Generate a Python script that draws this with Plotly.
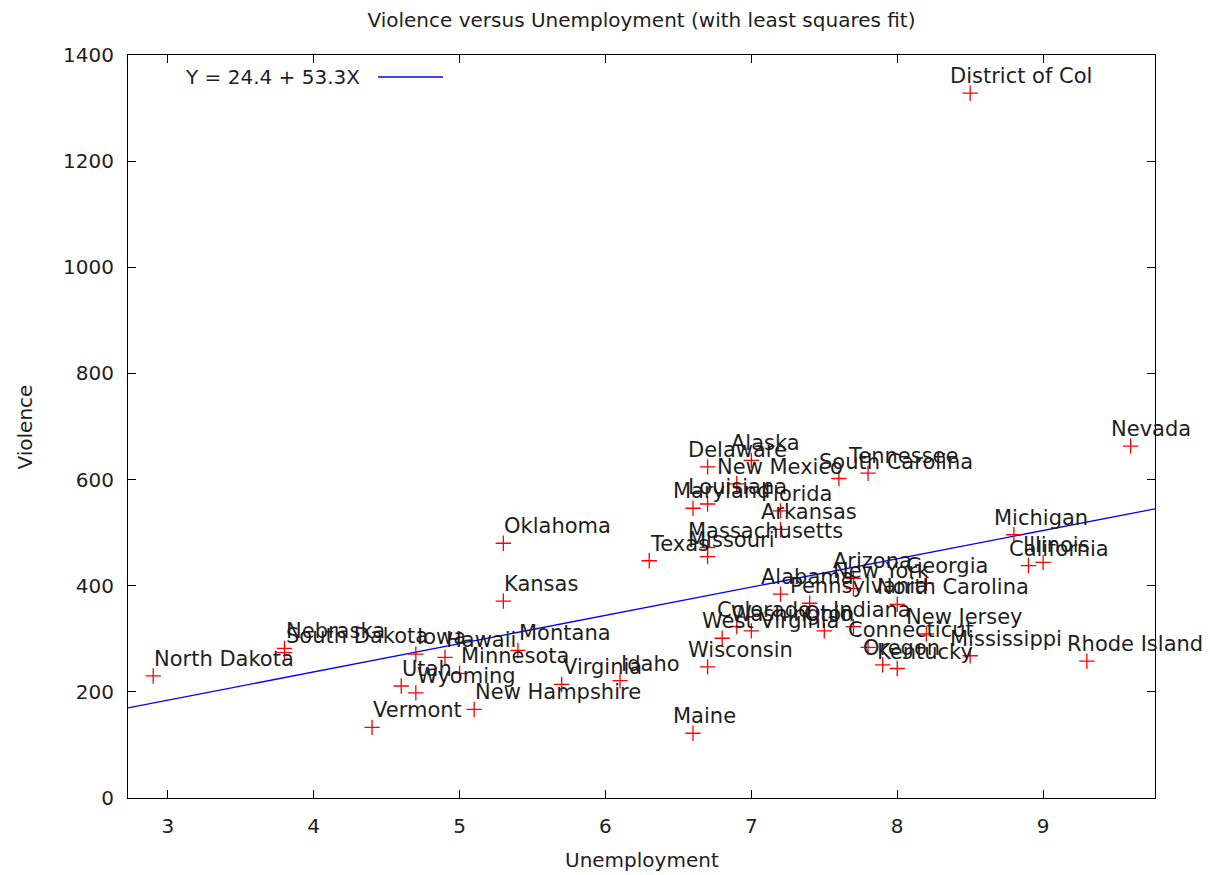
import numpy as np
import plotly.graph_objects as go

# ---------------- data ----------------
states = ["Alabama", "Alaska", "Arizona", "Arkansas", "California", "Colorado",
          "Connecticut", "Delaware", "District of Col", "Florida", "Georgia",
          "Hawaii", "Idaho", "Illinois", "Indiana", "Iowa", "Kansas", "Kentucky",
          "Louisiana", "Maine", "Maryland", "Massachusetts", "Michigan",
          "Minnesota", "Mississippi", "Missouri", "Montana", "Nebraska", "Nevada",
          "New Hampshire", "New Jersey", "New Mexico", "New York",
          "North Carolina", "North Dakota", "Ohio", "Oklahoma", "Oregon",
          "Pennsylvania", "Rhode Island", "South Carolina", "South Dakota",
          "Tennessee", "Texas", "Utah", "Vermont", "Virginia", "Washington",
          "West Virginia", "Wisconsin", "Wyoming"]

unemployment = [7.2, 7.0, 7.7, 7.2, 8.9, 6.9,
                7.8, 6.7, 8.5, 7.2, 8.2,
                4.9, 6.1, 9.0, 7.7, 4.7, 5.3, 8.0,
                6.7, 6.6, 6.6, 6.7, 8.8,
                5.0, 8.5, 6.7, 5.4, 3.8, 9.6,
                5.1, 8.2, 6.9, 7.7,
                8.0, 2.9, 7.5, 5.3, 7.9,
                7.4, 9.3, 7.6, 3.8,
                7.8, 6.3, 4.6, 4.4, 5.7, 7.0,
                6.8, 6.7, 4.7]

violence = [384, 636, 414, 506, 438, 323,
            284, 624, 1328, 541, 405,
            265, 221, 444, 323, 271, 371, 244,
            554, 122, 546, 472, 496,
            235, 268, 455, 278, 282, 663,
            167, 309, 592, 395,
            365, 230, 315, 480, 251,
            367, 258, 602, 274,
            612, 447, 211, 133, 214, 315,
            301, 247, 198]

fit_intercept = 24.4
fit_slope = 53.3

x_ticks = [3, 4, 5, 6, 7, 8, 9]
y_ticks = [0, 200, 400, 600, 800, 1000, 1200, 1400]

# ---------------- figure ----------------
x_range = [2.727, 9.767]
y_range = [0, 1400]

FIG_W, FIG_H = 1210, 875

fig = go.Figure()

# least squares line across the full x range
fx = np.array(x_range)
fy = fit_intercept + fit_slope * fx
fig.add_trace(go.Scatter(x=fx, y=fy, mode="lines",
                         line=dict(color="#0000ff", width=1.3),
                         name="Y = 24.4 + 53.3X", hoverinfo="skip"))

# data points
fig.add_trace(go.Scatter(x=unemployment, y=violence, mode="markers",
                         marker=dict(symbol="cross-thin", size=11,
                                     line=dict(color="#ff0000", width=1.3)),
                         text=states, name="states"))

label_font = dict(family="DejaVu Sans", size=21, color="#1e1e1e")
for name, xv, yv in zip(states, unemployment, violence):
    fig.add_annotation(x=xv, y=yv, xref="x", yref="y", text=name,
                       showarrow=False, xanchor="left", yanchor="middle",
                       xshift=(-1 if xv < 6.5 else -22), yshift=17,
                       font=label_font)

# key (gnuplot style: text then sample line)
fig.add_annotation(x=0.2278, y=0.9704, xref="paper", yref="paper",
                   text="Y = 24.4 + 53.3X", showarrow=False,
                   xanchor="right", yanchor="middle",
                   font=dict(family="DejaVu Sans", size=20, color="#1e1e1e"))
fig.add_shape(type="line", xref="paper", yref="paper",
              x0=0.2434, x1=0.3067, y0=0.9704, y1=0.9704,
              line=dict(color="#0000ff", width=1.3))

# axis titles
fig.add_annotation(x=0.5, y=-0.0834, xref="paper", yref="paper",
                   text="Unemployment", showarrow=False,
                   xanchor="center", yanchor="middle",
                   font=dict(family="DejaVu Sans", size=20, color="#1e1e1e"))
fig.add_annotation(x=-0.1003, y=0.5, xref="paper", yref="paper",
                   text="Violence", showarrow=False, textangle=-90,
                   xanchor="center", yanchor="middle",
                   font=dict(family="DejaVu Sans", size=20, color="#1e1e1e"))

axis_common = dict(showline=True, linecolor="black", linewidth=1,
                   mirror="ticks", ticks="inside", ticklen=8, tickwidth=1,
                   tickcolor="black", showgrid=False, zeroline=False,
                   tickfont=dict(family="DejaVu Sans", size=20, color="#1e1e1e"))

fig.update_xaxes(range=x_range, tickvals=x_ticks, ticklabelstandoff=10,
                 **axis_common)
fig.update_yaxes(range=y_range, tickvals=y_ticks, ticklabelstandoff=9,
                 **axis_common)

fig.update_layout(
    width=FIG_W, height=FIG_H,
    margin=dict(l=128, r=55, t=55, b=77),
    plot_bgcolor="white", paper_bgcolor="white",
    showlegend=False,
    title=dict(text="Violence versus Unemployment (with least squares fit)",
               x=0.5, xref="paper", xanchor="center",
               y=1 - 20 / FIG_H, yref="container", yanchor="middle",
               font=dict(family="DejaVu Sans", size=20, color="#1e1e1e")),
)

# remove the browser's default 8px body margin so the figure fills the window
fig.write_html("out.html",
               config={"displayModeBar": False},
               post_script="document.body.style.margin='0';"
                           "document.body.style.overflow='hidden';")
